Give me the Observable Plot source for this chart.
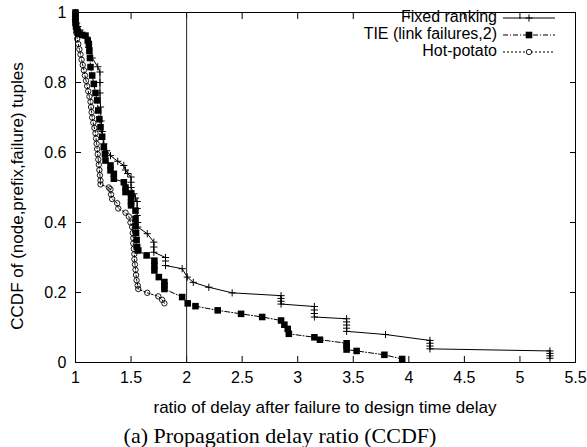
<!DOCTYPE html>
<html><head><meta charset="utf-8">
<script src="https://cdn.jsdelivr.net/npm/d3@7"></script>
<script src="https://cdn.jsdelivr.net/npm/@observablehq/plot@0.6"></script>
<style>
body{margin:0;background:#fff;}
#chart svg{display:block;}
#caption{width:560px;text-align:center;font-family:"Liberation Serif","Times New Roman",serif;font-size:22px;line-height:27px;margin-top:2px;color:#000;}
</style></head><body>
<div id="chart"></div>
<div id="caption">(a) Propagation delay ratio (CCDF)</div>
<script>
const xTicks = [1, 1.5, 2, 2.5, 3, 3.5, 4, 4.5, 5, 5.5];
const yTicks = [0, 0.2, 0.4, 0.6, 0.8, 1];
const refLineX = [2];
const seriesNames = ["Fixed ranking", "TIE (link failures,2)", "Hot-potato"];
const xTitle = "ratio of delay after failure to design time delay";
const yTitle = "CCDF of (node,prefix,failure) tuples";

const fixedX = [1.0,1.0,1.0,1.01,1.02,1.04,1.06,1.1,1.12,1.15,1.2,1.22,1.22,1.22,1.225,1.23,1.24,1.255,1.28,1.315,1.38,1.435,1.45,1.47,1.5,1.5,1.5,1.525,1.54,1.555,1.555,1.555,1.56,1.56,1.646,1.705,1.705,1.705,1.81,1.81,1.81,1.96,2.006,2.06,2.2,2.41,2.85,2.85,2.85,2.85,3.15,3.15,3.15,3.15,3.44,3.44,3.44,3.44,3.44,3.79,4.19,4.19,4.19,4.19,5.27,5.27,5.27,5.27];
const fixedY = [1.0,0.99,0.98,0.97,0.96,0.95,0.94,0.93,0.9,0.87,0.845,0.83,0.8,0.77,0.73,0.69,0.66,0.625,0.605,0.591,0.575,0.563,0.55,0.54,0.53,0.515,0.5,0.482,0.47,0.46,0.44,0.42,0.4,0.387,0.368,0.344,0.33,0.315,0.3,0.29,0.277,0.268,0.244,0.229,0.215,0.199,0.191,0.183,0.175,0.167,0.16,0.15,0.14,0.13,0.125,0.116,0.107,0.098,0.089,0.08,0.063,0.055,0.047,0.039,0.033,0.026,0.019,0.012];

const tieX = [1.0,1.0,1.0,1.0,1.005,1.01,1.02,1.03,1.06,1.09,1.11,1.12,1.125,1.13,1.135,1.15,1.165,1.18,1.195,1.205,1.215,1.225,1.24,1.255,1.265,1.27,1.315,1.315,1.345,1.345,1.435,1.45,1.45,1.5,1.5,1.5,1.5,1.54,1.54,1.54,1.545,1.55,1.555,1.565,1.64,1.71,1.71,1.71,1.75,1.8,1.8,1.8,1.96,2.01,2.08,2.28,2.49,2.68,2.85,2.88,2.91,2.92,3.15,3.2,3.44,3.44,3.44,3.53,3.78,3.94];
const tieY = [1.0,0.99,0.98,0.97,0.96,0.95,0.945,0.939,0.936,0.934,0.92,0.91,0.89,0.87,0.844,0.82,0.796,0.77,0.749,0.72,0.695,0.672,0.645,0.615,0.595,0.577,0.563,0.549,0.539,0.525,0.515,0.5,0.487,0.483,0.47,0.458,0.449,0.434,0.41,0.39,0.37,0.35,0.33,0.32,0.306,0.291,0.277,0.263,0.244,0.23,0.22,0.21,0.187,0.169,0.161,0.149,0.139,0.13,0.12,0.108,0.096,0.082,0.072,0.065,0.055,0.046,0.037,0.033,0.022,0.01];

const hotX = [1.0,1.0,1.005,1.01,1.015,1.025,1.035,1.045,1.055,1.065,1.075,1.085,1.095,1.105,1.115,1.125,1.135,1.14,1.145,1.15,1.16,1.17,1.18,1.185,1.19,1.195,1.2,1.205,1.21,1.215,1.22,1.225,1.225,1.3,1.315,1.32,1.33,1.375,1.385,1.45,1.48,1.495,1.51,1.515,1.52,1.52,1.525,1.53,1.53,1.535,1.54,1.545,1.55,1.56,1.565,1.646,1.745,1.78,1.8];
const hotY = [1.0,0.98,0.96,0.94,0.925,0.91,0.895,0.88,0.865,0.85,0.835,0.82,0.805,0.79,0.775,0.76,0.745,0.73,0.715,0.7,0.685,0.67,0.655,0.64,0.625,0.61,0.595,0.58,0.565,0.55,0.535,0.52,0.509,0.5,0.495,0.48,0.467,0.455,0.44,0.428,0.417,0.4,0.387,0.37,0.355,0.34,0.325,0.31,0.295,0.28,0.265,0.25,0.235,0.22,0.21,0.199,0.189,0.179,0.169];

const toRows = (xs, ys) => xs.map((x, i) => ({x, y: ys[i]}));
const fixed = toRows(fixedX, fixedY);
const tie = toRows(tieX, tieY);
const hot = toRows(hotX, hotY);

const plusSymbol = {draw(ctx, size){const r = Math.sqrt(size/Math.PI); ctx.moveTo(-r,0); ctx.lineTo(r,0); ctx.moveTo(0,-r); ctx.lineTo(0,r);}};

const tieDash = "5,2,1,2";
const hotDash = "2,2";
const FONT = "'Liberation Sans', Arial, sans-serif";

const chart = Plot.plot({
  width: 587, height: 420,
  marginLeft: 75, marginRight: 12, marginTop: 12, marginBottom: 58,
  style: {fontFamily: FONT, fontSize: "16px", color: "#000", background: "#fff"},
  x: {domain: [1, 5.5]},
  y: {domain: [0, 1]},
  marks: [
    Plot.frame({stroke: "#000", strokeWidth: 1}),
    Plot.axisX({ticks: xTicks, anchor: "bottom", tickSize: 0, tickPadding: 9, tickFormat: d => String(d), label: null, fontSize: 16}),
    Plot.axisX({ticks: xTicks, anchor: "bottom", tickSize: 6, dy: -6, tickFormat: () => "", label: null}),
    Plot.axisX({ticks: xTicks, anchor: "top", tickSize: 6, dy: 6, tickFormat: () => "", label: null}),
    Plot.axisY({ticks: yTicks, anchor: "left", tickSize: 0, tickPadding: 9, tickFormat: d => String(d), label: null, fontSize: 16}),
    Plot.axisY({ticks: yTicks, anchor: "left", tickSize: 6, dx: 6, tickFormat: () => "", label: null}),
    Plot.axisY({ticks: yTicks, anchor: "right", tickSize: 6, dx: -6, tickFormat: () => "", label: null}),
    Plot.ruleX(refLineX, {stroke: "#222", strokeWidth: 1}),
    Plot.line(fixed, {x: "x", y: "y", stroke: "#000", strokeWidth: 1}),
    Plot.dot(fixed, {x: "x", y: "y", symbol: plusSymbol, r: 3.6, stroke: "#000", strokeWidth: 1, fill: "none"}),
    Plot.line(tie, {x: "x", y: "y", stroke: "#000", strokeWidth: 1, strokeDasharray: tieDash}),
    Plot.dot(tie, {x: "x", y: "y", symbol: "square", r: 3.7, fill: "#000", stroke: "none"}),
    Plot.line(hot, {x: "x", y: "y", stroke: "#000", strokeWidth: 1, strokeDasharray: hotDash}),
    Plot.dot(hot, {x: "x", y: "y", symbol: "circle", r: 2.7, stroke: "#000", strokeWidth: 0.9, fill: "none"})
  ]
});
document.getElementById("chart").appendChild(chart);

const svg = d3.select(chart);
// axis titles
svg.append("text").attr("x", 325).attr("y", 409).attr("text-anchor", "middle").attr("dominant-baseline", "middle")
  .style("font-family", FONT).style("font-size", "17px").text(xTitle);
svg.append("text").attr("transform", "translate(19,196) rotate(-90)").attr("text-anchor", "middle").attr("dominant-baseline", "middle")
  .style("font-family", FONT).style("font-size", "17px").text(yTitle);

// legend
const legendRows = [
  {name: seriesNames[0], dash: null, marker: "plus"},
  {name: seriesNames[1], dash: tieDash, marker: "square"},
  {name: seriesNames[2], dash: hotDash, marker: "circle"}
];
const lg = svg.append("g");
legendRows.forEach((row, i) => {
  const cy = 18 + i * 17;
  lg.append("text").attr("x", 497).attr("y", cy).attr("text-anchor", "end").attr("dominant-baseline", "middle")
    .style("font-family", FONT).style("font-size", "16px").text(row.name);
  const ln = lg.append("line").attr("x1", 503).attr("x2", 555).attr("y1", cy).attr("y2", cy).attr("stroke", "#000").attr("stroke-width", 1);
  if (row.dash) ln.attr("stroke-dasharray", row.dash);
  if (row.marker === "plus") {
    lg.append("path").attr("d", `M525.4,${cy}h7.2M529,${cy-3.6}v7.2`).attr("stroke", "#000").attr("fill", "none");
  } else if (row.marker === "square") {
    lg.append("rect").attr("x", 525.7).attr("y", cy - 3.3).attr("width", 6.6).attr("height", 6.6).attr("fill", "#000");
  } else {
    lg.append("circle").attr("cx", 529).attr("cy", cy).attr("r", 2.7).attr("fill", "#fff").attr("stroke", "#000").attr("stroke-width", 0.9);
  }
});
</script>
</body></html>
